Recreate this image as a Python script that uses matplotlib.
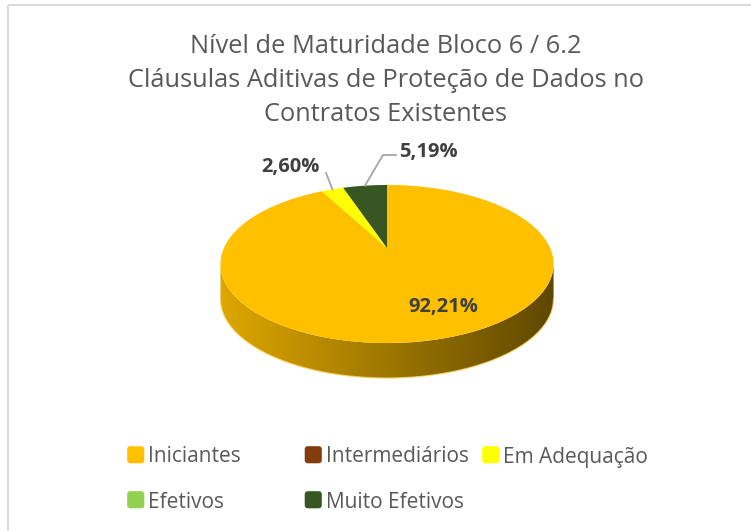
import matplotlib

matplotlib.use("Agg")
import matplotlib.pyplot as plt
import numpy as np
from matplotlib.colors import to_rgb
from matplotlib.patches import FancyBboxPatch, Polygon

# Dados do grafico
categorias = ["Iniciantes", "Intermediários", "Em Adequação", "Efetivos", "Muito Efetivos"]
percentuais = [92.21, 0.0, 2.60, 0.0, 5.19]
cores = ["#FFC000", "#843C0C", "#FFFF00", "#92D050", "#375623"]
titulo = [
    "Nível de Maturidade Bloco 6 / 6.2",
    "Cláusulas Aditivas de Proteção de Dados no",
    "Contratos Existentes",
]

# Geometria da pizza em perspectiva (pixels)
CX, CY = 387.0, 248.0      # centro do disco projetado
A, B = 163.1, 75.8         # semieixos antes da perspectiva
K = 0.2026                 # forca da perspectiva (fundo menor que a frente)
ALTURA = 35.0              # espessura do disco

CINZA_TEXTO = "#595959"
CINZA_ROTULO = "#404040"
FONTE = ["Open Sans", "DejaVu Sans"]


def projetar(theta, queda=0.0):
    """Ponto da borda do disco no angulo theta (horario a partir do topo)."""
    u, v = np.sin(theta), np.cos(theta)
    w = 1 + K * v
    return CX + A * u / w, CY - B * v / w + queda


def arco(t0, t1, queda=0.0, n=200):
    t = np.linspace(t0, t1, n)
    x, y = projetar(t, queda)
    return np.column_stack([x, y])


fig = plt.figure(figsize=(7.51, 5.31), dpi=100)
ax = fig.add_axes([0, 0, 1, 1])

fracoes = np.array(percentuais) / 100.0
limites = np.concatenate([[0], np.cumsum(fracoes)]) * 2 * np.pi

# faixa da lateral que aparece de frente (entre as bordas da silhueta)
t_dir, t_esq = np.arccos(-K), 2 * np.pi - np.arccos(-K)

# Lateral do disco, com degradê da esquerda (claro) para a direita (escuro)
tom = np.linspace(0.87, 0.37, 256)
for i, cor in enumerate(cores):
    t0, t1 = max(limites[i], t_dir), min(limites[i + 1], t_esq)
    if t1 <= t0:
        continue
    topo = arco(t0, t1)
    base = arco(t0, t1, ALTURA)[::-1]
    contorno = Polygon(np.vstack([topo, base]), closed=True, transform=ax.transData)
    img = np.array(to_rgb(cor))[None, None, :] * tom[None, :, None]
    x0, _ = projetar(t_esq)
    x1, _ = projetar(t_dir)
    im = ax.imshow(img, extent=(x0, x1, CY + 140, CY - 20), aspect="auto",
                   interpolation="bilinear", zorder=1)
    im.set_clip_path(contorno)
    bx, by = projetar(np.linspace(t0, t1, 200), ALTURA)
    ax.plot(bx, by, color="#FFD966", lw=0.9, alpha=0.8, zorder=1.5)

# Face superior
for i, cor in enumerate(cores):
    if fracoes[i] <= 0:
        continue
    pts = np.vstack([[CX, CY], arco(limites[i], limites[i + 1])])
    ax.add_patch(Polygon(pts, closed=True, facecolor=cor, edgecolor="none", zorder=2))

# Rotulos de dados
rotulo_fmt = lambda p: f"{p:.2f}%".replace(".", ",")
posicoes = {0: (443, 312), 2: (290, 172), 4: (428, 157)}
for i, (tx, ty) in posicoes.items():
    ax.text(tx, ty, rotulo_fmt(percentuais[i]), ha="center", va="baseline",
            fontsize=14.5, fontweight="bold", color=CINZA_ROTULO, family=FONTE, zorder=4)

# linhas de chamada ate o meio de cada fatia
meio_am = projetar((limites[2] + limites[3]) / 2)
ax.plot([326, meio_am[0]], [173, meio_am[1]], color="#A6A6A6", lw=1.3, zorder=3)
meio_vd = projetar((limites[4] + limites[5]) / 2)
ax.plot([396, 383, meio_vd[0]], [155, 155, meio_vd[1]], color="#A6A6A6", lw=1.3, zorder=3)

# Titulo
for linha, base in zip(titulo, [53, 87, 121]):
    ax.text(386, base, linha, ha="center", va="baseline", fontsize=18.3,
            color=CINZA_TEXTO, family=FONTE)

# Legenda em tres colunas
col_x = [127, 304.5, 482]
lin_y = [463, 508]
for i, (nome, cor) in enumerate(zip(categorias, cores)):
    x = col_x[i % 3]
    y = lin_y[i // 3]
    ax.add_patch(FancyBboxPatch((x + 2, y - 15), 13.5, 13.5,
                                boxstyle="round,pad=1.8,rounding_size=3",
                                facecolor=cor, edgecolor="none"))
    ax.text(x + 21, y - 0.5, nome, ha="left", va="baseline", fontsize=15,
            color=CINZA_TEXTO, family=FONTE)

# Moldura da area do grafico
ax.plot([8, 751], [4.5, 4.5], color="#D9D9D9", lw=1.4, solid_capstyle="butt")
ax.plot([8, 8], [4.5, 531], color="#D9D9D9", lw=1.4, solid_capstyle="butt")

ax.set_xlim(0, 751)
ax.set_ylim(531, 0)
ax.axis("off")
fig.savefig("out.png", dpi=100)
